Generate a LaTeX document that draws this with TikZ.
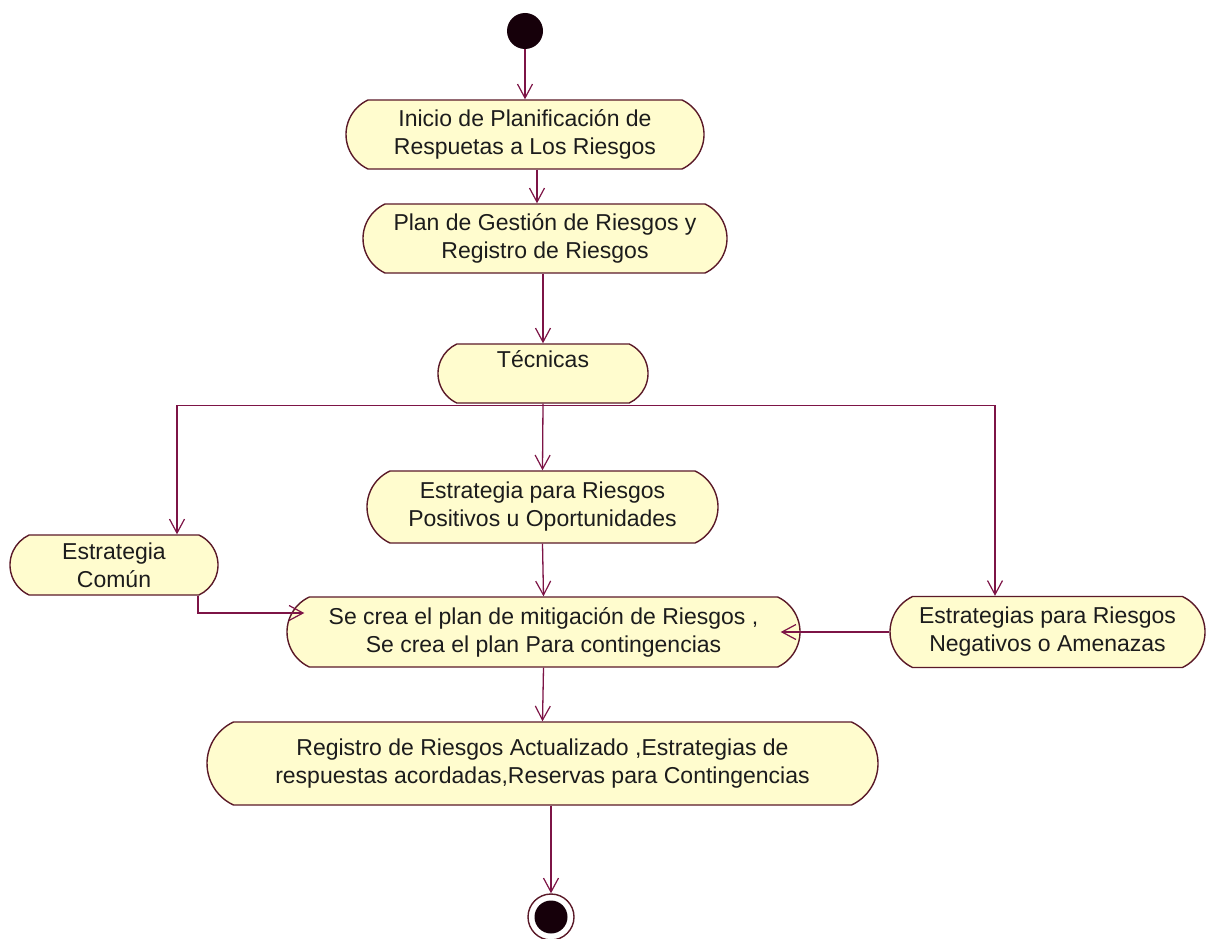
\documentclass[tikz,border=0pt]{standalone}
\usepackage{fontspec}
\setmainfont{Liberation Sans}
\usetikzlibrary{arrows.meta,shapes.misc}
\definecolor{flowline}{RGB}{125,20,70}
\definecolor{actfill}{RGB}{255,252,206}
\definecolor{actedge}{RGB}{90,25,40}
\definecolor{inkdark}{RGB}{28,28,28}
\definecolor{dotfill}{RGB}{22,0,10}
\begin{document}
\begin{tikzpicture}[x=1pt,y=-1pt,
  activity/.style={rounded rectangle, rounded rectangle arc length=130,
    draw=actedge, line width=1.4pt, fill=actfill,
    align=center, inner sep=0pt, text=inkdark,
    font=\fontsize{23}{28}\selectfont},
  flow/.style={draw=flowline, line width=1.3pt,
    -{Straight Barb[length=14pt,width=15pt,line width=1.2pt]}}]
\useasboundingbox (0,0) rectangle (1207,939);

% start and end states
\node[circle, fill=dotfill, minimum size=36pt, inner sep=0pt] (start) at (525,31) {};
\node[circle, draw=actedge, line width=1.4pt, fill=white, minimum size=46pt, inner sep=0pt] (finish) at (551,917) {};
\node[circle, fill=dotfill, minimum size=33pt, inner sep=0pt] (finishdot) at (finish) {};

% activities
\node[activity, minimum width=358pt, minimum height=69pt] (b1) at (525,134.5)
  {Inicio de Planificación de\\Respuetas a Los Riesgos};
\node[activity, minimum width=364pt, minimum height=69pt] (b2) at (545,238.5)
  {Plan de Gestión de Riesgos y\\Registro de Riesgos};
\node[activity, minimum width=210pt, minimum height=59pt] (tec) at (543,373.5)
  {Técnicas\\\phantom{T}};
\node[activity, minimum width=351pt, minimum height=72pt] (pos) at (542.5,507)
  {Estrategia para Riesgos\\Positivos u Oportunidades};
\node[activity, minimum width=208pt, minimum height=60pt] (comun) at (114,565)
  {Estrategia\\Común};
\node[activity, minimum width=513pt, minimum height=70pt] (secrea) at (543.5,632)
  {Se crea el plan de mitigación de Riesgos ,\\Se crea el plan Para contingencias};
\node[activity, minimum width=315pt, minimum height=71pt] (neg) at (1047.5,632)
  {Estrategias para Riesgos\\Negativos o Amenazas};
\node[activity, minimum width=671pt, minimum height=83pt] (reg) at (542.5,763.5)
  {Registro de Riesgos Actualizado ,Estrategias de\\respuestas acordadas,Reservas para Contingencias};

% transitions
\draw[flow] (start) -- (b1.north);
\coordinate (b1out) at ([xshift=12pt]b1.south);
\draw[flow] (b1out) -- (b1out |- b2.north);
\draw[flow] (b2.south -| tec.north) -- (tec.north);

\coordinate (fork) at ([yshift=-2pt]tec.south);
\coordinate (comunin) at ([xshift=63pt]comun.north);
\coordinate (negin) at ([xshift=-52.5pt]neg.north);
\draw[flow] (fork) -| (comunin);
\draw[flow] (fork) -| (negin);
\draw[flow] (tec.south) -- (pos.north);

\coordinate (comunout) at ([xshift=84pt]comun.south);
\coordinate (secrealeft) at ([xshift=18pt,yshift=19pt]secrea.west);
\draw[flow] (comunout) |- (secrealeft);
\draw[flow] (pos.south) -- (secrea.north);
\draw[flow] (neg.west) -- ([xshift=-20pt]secrea.east);
\draw[flow] (secrea.south) -- (reg.north);
\draw[flow] (reg.south -| finish.north) -- (finish.north);
\end{tikzpicture}
\end{document}
